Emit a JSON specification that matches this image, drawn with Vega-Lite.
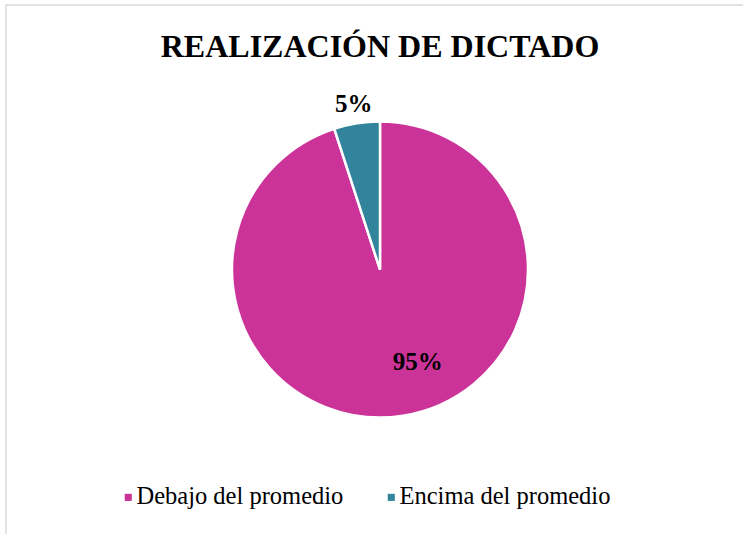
{
  "$schema": "https://vega.github.io/schema/vega-lite/v6.json",
  "width": 739,
  "height": 531,
  "autosize": "none",
  "padding": {"left": 6, "top": 5, "right": 0, "bottom": 0},
  "background": "white",
  "view": {"stroke": "#D9D9D9", "strokeWidth": 1.5},
  "config": {"view": {"stroke": "#D9D9D9", "strokeWidth": 1.5}, "text": {"font": "Liberation Serif"}},
  "title": {
    "text": "REALIZACIÓN DE DICTADO",
    "font": "Liberation Serif",
    "fontSize": 32,
    "fontWeight": "bold",
    "color": "black",
    "anchor": "middle",
    "frame": "group",
    "baseline": "alphabetic",
    "offset": -84,
    "dx": 4.5
  },
  "data": {
    "values": [
      {"categoria": "Debajo del promedio", "valor": 95, "etiqueta": "95%"},
      {"categoria": "Encima del promedio", "valor": 5, "etiqueta": "5%"}
    ]
  },
  "encoding": {
    "theta": {"field": "valor", "type": "quantitative", "stack": true},
    "order": {"field": "valor", "type": "quantitative", "sort": "descending"},
    "color": {
      "field": "categoria",
      "type": "nominal",
      "scale": {"domain": ["Debajo del promedio", "Encima del promedio"], "range": ["#CC3399", "#31849B"]},
      "legend": {
        "title": null,
        "orient": "none",
        "direction": "horizontal",
        "legendX": 110,
        "legendY": 480,
        "symbolType": "square",
        "symbolSize": 50,
        "symbolStrokeWidth": 0,
        "labelFont": "Liberation Serif",
        "labelFontSize": 24.5,
        "labelColor": "black",
        "labelOffset": -4,
        "labelLimit": 400,
        "columnPadding": 35
      }
    }
  },
  "layer": [
    {"mark": {"type": "arc", "outerRadius": 148, "stroke": "white", "strokeWidth": 2.5, "xOffset": 4.5, "yOffset": -1}},
    {
      "mark": {"type": "text", "font": "Liberation Serif", "fontSize": 25, "fontWeight": "bold", "radius": 168, "xOffset": 4.5, "yOffset": -1},
      "encoding": {
        "detail": {"field": "categoria"},
        "text": {"condition": {"test": "datum.valor < 50", "field": "etiqueta"}, "value": ""},
        "color": {"value": "black"}
      }
    },
    {
      "mark": {"type": "text", "font": "Liberation Serif", "fontSize": 25, "fontWeight": "bold", "radius": 100, "xOffset": 4.5, "yOffset": -1, "dx": 22, "dy": -6},
      "encoding": {
        "detail": {"field": "categoria"},
        "text": {"condition": {"test": "datum.valor >= 50", "field": "etiqueta"}, "value": ""},
        "color": {"value": "black"}
      }
    }
  ]
}
